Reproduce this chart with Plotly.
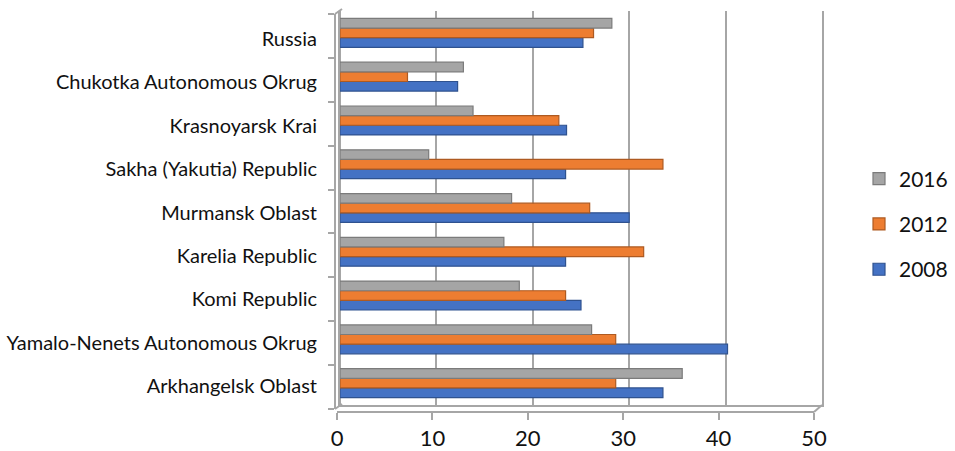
import plotly.graph_objects as go

# Regions listed bottom-to-top (plotly draws the first category at the bottom)
regions = [
    "Arkhangelsk Oblast",
    "Yamalo-Nenets Autonomous Okrug",
    "Komi Republic",
    "Karelia Republic",
    "Murmansk Oblast",
    "Sakha (Yakutia) Republic",
    "Krasnoyarsk Krai",
    "Chukotka Autonomous Okrug",
    "Russia",
]

v2008 = [33.5, 40.2, 25.0, 23.4, 30.0, 23.4, 23.5, 12.2, 25.2]
v2012 = [28.6, 28.6, 23.4, 31.5, 25.9, 33.5, 22.7, 7.0, 26.3]
v2016 = [35.5, 26.1, 18.6, 17.0, 17.8, 9.2, 13.8, 12.8, 28.2]

x_ticks = [0, 10, 20, 30, 40, 50]

# name, values, fill, edge, legend rank (newest year listed first)
series = [
    ("2008", v2008, "#4472c4", "#2f528f", 3),
    ("2012", v2012, "#ed7d31", "#ae5a21", 2),
    ("2016", v2016, "#a5a5a5", "#7b7b7b", 1),
]

FONT = "Lato"
GRID = "#a6a6a6"
TXT = "#111111"
W, H = 955, 451
pos = list(range(len(regions)))


def fx(px):
    return px / W


def fy(px):
    return 1 - px / H


fig = go.Figure()
for name, vals, fill, edge, rank in series:
    fig.add_trace(go.Bar(
        name=name, y=pos, x=vals, orientation="h",
        marker=dict(color=fill, line=dict(color=edge, width=1.2)),
        legendgroup=name, legendrank=rank,
        hoverinfo="x+name",
    ))

# invisible helpers so the front-edge axes are rendered
fig.add_trace(go.Scatter(x=[None], y=[None], xaxis="x2", yaxis="y2",
                         showlegend=False, hoverinfo="skip"))
fig.add_trace(go.Scatter(x=[None], y=[None], xaxis="x2", yaxis="y3",
                         showlegend=False, hoverinfo="skip"))

# small perspective corners joining the front edges to the back wall
corners = [
    ((335, 409), (342, 404)),
    ((814, 412), (822, 405)),
    ((335, 14), (342, 9)),
]
shapes = [
    dict(type="line", xref="paper", yref="paper",
         x0=fx(a[0]), y0=fy(a[1]), x1=fx(b[0]), y1=fy(b[1]),
         line=dict(color=GRID, width=2))
    for a, b in corners
]

fig.update_layout(
    width=W, height=H,
    margin=dict(l=0, r=0, t=0, b=0),
    paper_bgcolor="white", plot_bgcolor="rgba(0,0,0,0)",
    barmode="group", bargap=0.34, bargroupgap=0,
    font=dict(family=FONT, size=20, color=TXT),
    showlegend=True,
    shapes=shapes,
    legend=dict(
        traceorder="grouped", x=fx(859), xanchor="left", y=fy(224), yanchor="middle",
        font=dict(family=FONT, size=21, color=TXT),
        tracegroupgap=15, bgcolor="rgba(0,0,0,0)",
    ),
    # back wall: bars and gridlines
    xaxis=dict(
        domain=[fx(340), fx(822)], range=[0, 50], tickvals=x_ticks,
        showticklabels=False, ticks="",
        showgrid=True, gridcolor=GRID, gridwidth=2,
        zeroline=True, zerolinecolor=GRID, zerolinewidth=2,
        showline=True, linecolor=GRID, linewidth=2,
        automargin=False, fixedrange=True,
    ),
    yaxis=dict(
        domain=[fy(405), fy(11)], range=[-0.5, 8.5],
        showticklabels=False, showgrid=False, zeroline=False, ticks="",
        showline=True, mirror=True, linecolor=GRID, linewidth=2,
        automargin=False, fixedrange=True,
    ),
    # front floor edge with the value labels
    xaxis2=dict(
        domain=[fx(337), fx(814)], anchor="free", position=fy(412),
        range=[0, 50], tickvals=x_ticks,
        ticks="outside", ticklen=7, tickcolor=GRID, tickwidth=2,
        showline=True, linecolor=GRID, linewidth=2,
        showgrid=False, zeroline=False,
        tickfont=dict(family=FONT, size=22, color=TXT),
        automargin=False, fixedrange=True,
    ),
    # region names along the front left edge
    yaxis2=dict(
        domain=[fy(407.7), fy(17.3)], anchor="free", position=fx(335),
        range=[-0.5, 8.5], tickvals=pos, ticktext=regions,
        ticks="outside", ticklen=14, tickcolor="rgba(0,0,0,0)",
        showline=False, showgrid=False, zeroline=False,
        tickfont=dict(family=FONT, size=20, color=TXT),
        automargin=False, fixedrange=True,
    ),
    # front left edge with category boundary ticks
    yaxis3=dict(
        domain=[fy(409), fy(14)], anchor="free", position=fx(335),
        range=[-0.5, 8.5], tickvals=[i - 0.5 for i in range(len(regions) + 1)],
        showticklabels=False, ticks="outside", ticklen=6, tickcolor=GRID, tickwidth=2,
        showline=True, linecolor=GRID, linewidth=2,
        showgrid=False, zeroline=False,
        automargin=False, fixedrange=True,
    ),
)

fig.write_html("out.html")
